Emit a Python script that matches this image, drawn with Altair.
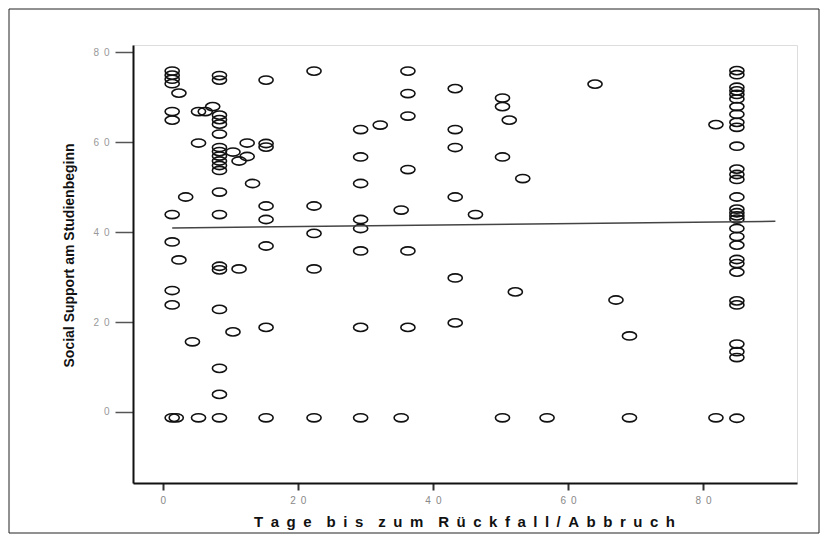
import altair as alt
import pandas as pd

# ---- data ----
day_columns = [1.4, 2.0, 2.4, 3.4, 4.4, 5.3, 6.3, 7.4, 8.4, 10.4, 11.3, 12.5,
               13.3, 15.3, 22.4, 29.3, 32.2, 35.3, 36.3, 43.3, 46.3, 50.3,
               51.3, 52.2, 53.3, 56.9, 64.0, 67.1, 69.1, 81.9, 85.0]

support_by_column = [
    [75.8, 74.9, 74.0, 73.0, 66.8, 64.9, 43.9, 37.8, 27.0, 23.8, -1.3],
    [-1.3],
    [70.9, 33.8],
    [47.8],
    [15.6],
    [66.8, 59.8, -1.3],
    [66.8],
    [67.9],
    [74.8, 73.8, 66.0, 65.0, 64.0, 61.8, 58.8, 57.9, 56.9, 55.8, 54.8, 53.7,
     48.9, 43.9, 32.4, 31.6, 22.8, 9.7, 3.9, -1.3],
    [57.8, 17.8],
    [55.8, 31.8],
    [59.8, 56.8],
    [50.8],
    [73.8, 59.7, 58.9, 45.8, 42.8, 36.9, 18.8, -1.3],
    [75.8, 45.8, 39.7, 31.8, -1.3],
    [62.8, 56.7, 50.8, 42.8, 40.8, 35.8, 18.8, -1.3],
    [63.8],
    [44.9, -1.3],
    [75.8, 70.8, 65.8, 53.9, 35.8, 18.8],
    [71.9, 62.8, 58.8, 47.8, 29.8, 19.8],
    [43.9],
    [69.8, 67.9, 56.7, -1.3],
    [64.9],
    [26.7],
    [51.9],
    [-1.3],
    [72.9],
    [24.9],
    [16.9, -1.3],
    [63.9, -1.3],
    [75.9, 75.0, 72.2, 71.4, 70.6, 69.6, 67.9, 66.2, 64.4, 63.3, 59.1, 54.0,
     52.8, 51.7, 47.8, 45.1, 44.3, 43.6, 42.9, 40.8, 39.0, 37.1, 33.9, 33.0,
     31.1, 24.7, 23.8, 15.1, 13.4, 12.1, -1.4],
]

fit_days = [1.4, 90.7]
fit_support = [40.9, 42.4]

tick_values = [0, 20, 40, 60, 80]

x_title = "\u2003".join(
    "\u2002".join(word) for word in ["Tage", "bis", "zum", "Rückfall/Abbruch"]
)
y_title = "Social Support am Studienbeginn"

# ---- build tables ----
rows = []
for d, ys in zip(day_columns, support_by_column):
    for s in ys:
        rows.append({"days": d, "support": s})
df = pd.DataFrame(rows)
fit_df = pd.DataFrame({"days": fit_days, "support": fit_support})

label_expr = "datum.value == 0 ? '0' : (datum.value / 10) + '\u2002' + '0'"

x_axis = alt.Axis(
    values=tick_values, labelExpr=label_expr, grid=False,
    title=x_title, titleFontSize=15, titleFontWeight="bold", titleColor="#111",
    titleX=331, titleY=38, titleAlign="center", titleBaseline="middle",
    tickSize=7, tickWidth=2, tickColor="#333",
    labelFontSize=10, labelColor="#888", labelPadding=5,
    domainColor="#111", domainWidth=2,
)
y_axis = alt.Axis(
    values=tick_values, labelExpr=label_expr, grid=False,
    title=y_title, titleFontSize=14, titleFontWeight="bold", titleColor="#111",
    titleX=-64, titleY=210, titleAngle=270, titleAlign="center",
    titleBaseline="middle",
    tickSize=18, tickWidth=1.5, tickColor="#555",
    labelFontSize=10, labelColor="#999", labelPadding=6,
    domainColor="#111", domainWidth=2,
)

x_enc = alt.X("days:Q", scale=alt.Scale(domain=[-4.4, 93.9], nice=False, zero=False), axis=x_axis)
y_enc = alt.Y("support:Q", scale=alt.Scale(domain=[-15.8, 81.6], nice=False, zero=False), axis=y_axis)

ellipse = "M -1 0 A 1 0.58 0 1 0 1 0 A 1 0.58 0 1 0 -1 0 Z"

points = alt.Chart(df).mark_point(
    shape=ellipse, size=200, filled=False, color="#111", strokeWidth=1.6, opacity=1
).encode(x=x_enc, y=y_enc)

line = alt.Chart(fit_df).mark_line(color="#444", strokeWidth=1.5).encode(x=x_enc, y=y_enc)

frame = alt.Chart(alt.Data(values=[{"k": 1}])).mark_rect(
    fillOpacity=0, stroke="#222", strokeWidth=1
).encode(
    x=alt.value(-124), x2=alt.value(686), y=alt.value(-36), y2=alt.value(488)
)

chart = alt.layer(frame, points, line).properties(
    width=664, height=438,
    autosize=alt.AutoSizeParams(type="none"),
    padding={"left": 125, "top": 37, "right": 24, "bottom": 53},
    background="white",
).configure_view(
    stroke="#666", strokeWidth=2
).configure(
    font="Liberation Sans"
)

chart.save("out.html", embed_options={"renderer": "svg", "actions": False})
